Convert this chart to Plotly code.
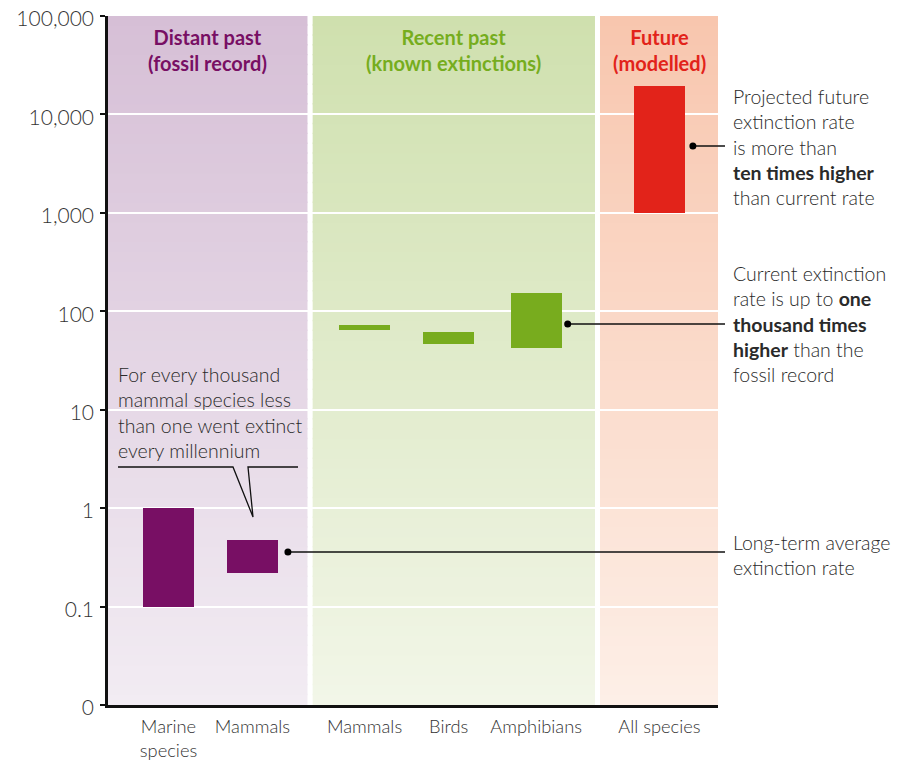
import plotly.graph_objects as go

# ---------------- data ----------------
categories = ["Marine<br>species", "Mammals", "Mammals", "Birds", "Amphibians", "All species"]
groups = ["Distant past", "Distant past", "Recent past", "Recent past", "Recent past", "Future"]
rate_low = [0.1, 0.22, 65, 46, 42, 1000]
rate_high = [1.0, 0.48, 73, 61, 155, 19500]

group_names = ["Distant past", "Recent past", "Future"]
group_titles = ["Distant past<br>(fossil record)", "Recent past<br>(known extinctions)", "Future<br>(modelled)"]

tick_values = [0.01, 0.1, 1, 10, 100, 1000, 10000, 100000]
tick_labels = ["0", "0.1", "1", "10", "100", "1,000", "10,000", "100,000"]

# ---------------- layout / style constants ----------------
PAGE_OFF = 8                      # default body margin of the html page
W, H = 906 - PAGE_OFF, 760 - PAGE_OFF
REF_L, REF_T = 108, 16            # plot area corner in page pixels
ML, MT = REF_L - PAGE_OFF, REF_T - PAGE_OFF
PW, PH = 610, 689
MR = W - ML - PW
MB = H - MT - PH
XR = [0, 7.18]
UNIT = PW / (XR[1] - XR[0])

slot_x = [0.712, 1.70, 3.02, 4.01, 5.04, 6.49]
bar_w = 0.60
band_span = {"Distant past": (0.0, 2.348), "Recent past": (2.409, 5.732), "Future": (5.791, 7.18)}

bar_color = {"Distant past": "#780f64", "Recent past": "#78ac1e", "Future": "#e2231a"}
title_color = {"Distant past": "#780f64", "Recent past": "#76ad1e", "Future": "#e2231a"}
band_top = {"Distant past": (214, 191, 214), "Recent past": (207, 224, 174), "Future": (248, 198, 174)}
band_bot = {"Distant past": (242, 236, 243), "Recent past": (242, 246, 232), "Future": (253, 239, 231)}

FONT = "Lato"
TXT = "#2a2a2a"


def px2paper_x(px):
    return (px - REF_L) / PW


def px2paper_y(py):
    return (REF_T + PH - py) / PH


fig = go.Figure()

fig.add_trace(go.Bar(
    x=slot_x,
    base=rate_low,
    y=[h - l for h, l in zip(rate_high, rate_low)],
    width=bar_w,
    marker=dict(color=[bar_color[g] for g in groups], line=dict(width=0)),
    hoverinfo="skip",
    showlegend=False,
))

shapes = []
# gradient background bands (stacked strips, drawn below gridlines)
N = 70
for g in group_names:
    x0, x1 = band_span[g]
    top, bot = band_top[g], band_bot[g]
    for i in range(N):
        t = (i + 0.5) / N
        c = tuple(round(bot[k] + (top[k] - bot[k]) * t) for k in range(3))
        shapes.append(dict(
            type="rect", xref="x", yref="paper", layer="below",
            x0=x0, x1=x1, y0=i / N, y1=min(1, (i + 1.15) / N),
            fillcolor="rgb(%d,%d,%d)" % c, line=dict(width=0),
        ))

# connector lines with dots
def connector(x_data_dot, py, x_end_px=725):
    yp = px2paper_y(py)
    xd_paper = (x_data_dot - XR[0]) / (XR[1] - XR[0])
    shapes.append(dict(type="line", xref="paper", yref="paper",
                       x0=xd_paper, x1=px2paper_x(x_end_px), y0=yp, y1=yp,
                       line=dict(color="#111", width=1.3), layer="above"))
    shapes.append(dict(type="circle", xref="paper", yref="paper",
                       xsizemode="pixel", ysizemode="pixel",
                       xanchor=xd_paper, yanchor=yp,
                       x0=-3.5, x1=3.5, y0=-3.5, y1=3.5,
                       fillcolor="#000", line=dict(width=0), layer="above"))


connector(slot_x[1] + bar_w / 2 + 10 / UNIT, 552)
connector(slot_x[4] + bar_w / 2 + 6 / UNIT, 324)
connector(slot_x[5] + bar_w / 2 + 8 / UNIT, 146)

# speech-bubble underline for left callout
pts = [(118, 467), (233, 467), (253, 517), (248, 467), (298, 467)]
path = "M " + " L ".join("%.4f,%.4f" % (px2paper_x(a), px2paper_y(b)) for a, b in pts)
shapes.append(dict(type="path", xref="paper", yref="paper", path=path,
                   line=dict(color="#111", width=1.3), layer="above"))

annotations = []
for g, title in zip(group_names, group_titles):
    x0, x1 = band_span[g]
    annotations.append(dict(
        x=(x0 + x1) / 2, xref="x", y=px2paper_y(50), yref="paper",
        text=title, showarrow=False, xanchor="center", yanchor="middle",
        font=dict(family=FONT, size=20, color=title_color[g], weight=700),
    ))

right_notes = [
    ("Projected future<br>extinction rate<br>is more than<br><b>ten times higher</b><br>than current rate", 146.5),
    ("Current extinction<br>rate is up to <b>one</b><br><b>thousand times</b><br><b>higher</b> than the<br>fossil record", 324),
    ("Long-term average<br>extinction rate", 555),
]
for txt, py in right_notes:
    annotations.append(dict(
        x=px2paper_x(731), xref="paper", y=px2paper_y(py), yref="paper",
        text=txt, showarrow=False, xanchor="left", yanchor="middle", align="left",
        font=dict(family=FONT, size=19.5, color=TXT, weight=300),
    ))

annotations.append(dict(
    x=px2paper_x(116), xref="paper", y=px2paper_y(412), yref="paper",
    text="For every thousand<br>mammal species less<br>than one went extinct<br>every millennium",
    showarrow=False, xanchor="left", yanchor="middle", align="left",
    font=dict(family=FONT, size=19.5, color=TXT, weight=300),
))

fig.update_layout(
    width=W, height=H,
    margin=dict(l=ML, r=MR, t=MT, b=MB, autoexpand=False),
    plot_bgcolor="white", paper_bgcolor="white",
    showlegend=False,
    shapes=shapes,
    annotations=annotations,
    bargap=0,
    xaxis=dict(
        range=XR, showgrid=False, zeroline=False, automargin=False,
        showline=True, linecolor="#111", linewidth=2.5,
        tickvals=slot_x, ticktext=categories, ticks="",
        tickfont=dict(family=FONT, size=18.3, color="#333", weight=300),
        ticklabeloverflow="allow", ticklabelstandoff=3,
        fixedrange=True,
    ),
    yaxis=dict(
        type="log", range=[-2, 5], automargin=False,
        tickvals=tick_values, ticktext=tick_labels,
        ticks="outside", ticklen=5, tickwidth=2, tickcolor="#111",
        showline=True, linecolor="#111", linewidth=2.5,
        showgrid=True, gridcolor="white", gridwidth=1.6,
        zeroline=False,
        tickfont=dict(family=FONT, size=21, color="#333", weight=300),
        ticklabeloverflow="allow", ticklabelshift=3, ticklabelstandoff=2,
        fixedrange=True,
    ),
)

fig.write_html("out.html")
